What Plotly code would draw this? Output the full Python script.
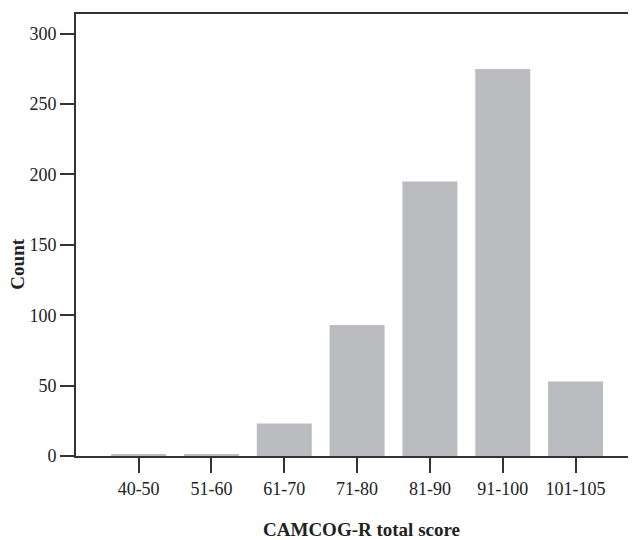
import plotly.graph_objects as go

categories = ["40-50", "51-60", "61-70", "71-80", "81-90", "91-100", "101-105"]
counts = [1, 1, 23, 93, 195, 275, 53]
y_ticks = [0, 50, 100, 150, 200, 250, 300]

fig = go.Figure()
fig.add_trace(go.Bar(
    x=categories, y=counts,
    marker=dict(color="#bbbcc0", line=dict(width=0)),
))

axis_color = "#333333"
fig.update_layout(
    width=628, height=532,
    margin=dict(l=68, r=0, t=6, b=84),
    paper_bgcolor="white", plot_bgcolor="white",
    bargap=0.245,
    showlegend=False,
    font=dict(family="Liberation Serif", size=18, color="#222222"),
    xaxis=dict(
        type="category",
        range=[-0.86, 6.83],
        showgrid=False, zeroline=False,
        showline=True, linecolor=axis_color, linewidth=2, mirror=True,
        ticks="outside", ticklen=15, tickwidth=1.5, tickcolor=axis_color,
        tickfont=dict(family="Liberation Serif", size=18, color="#222222"),
    ),
    yaxis=dict(
        range=[0, 314],
        tickvals=y_ticks,
        showgrid=False, zeroline=False,
        showline=True, linecolor=axis_color, linewidth=2, mirror=False,
        ticks="outside", ticklen=14, tickwidth=1.5, tickcolor=axis_color,
        tickfont=dict(family="Liberation Serif", size=18, color="#222222"),
    ),
    annotations=[
        dict(text="<b>CAMCOG-R total score</b>", xref="paper", yref="paper",
             x=0.51, y=-0.167, xanchor="center", yanchor="middle", showarrow=False,
             font=dict(family="Liberation Serif", size=19, color="#222222")),
        dict(text="<b>Count</b>", xref="paper", yref="paper",
             x=-0.1045, y=0.434, xanchor="center", yanchor="middle", showarrow=False,
             textangle=-90,
             font=dict(family="Liberation Serif", size=19, color="#222222")),
    ],
)

fig.write_html("out.html")
